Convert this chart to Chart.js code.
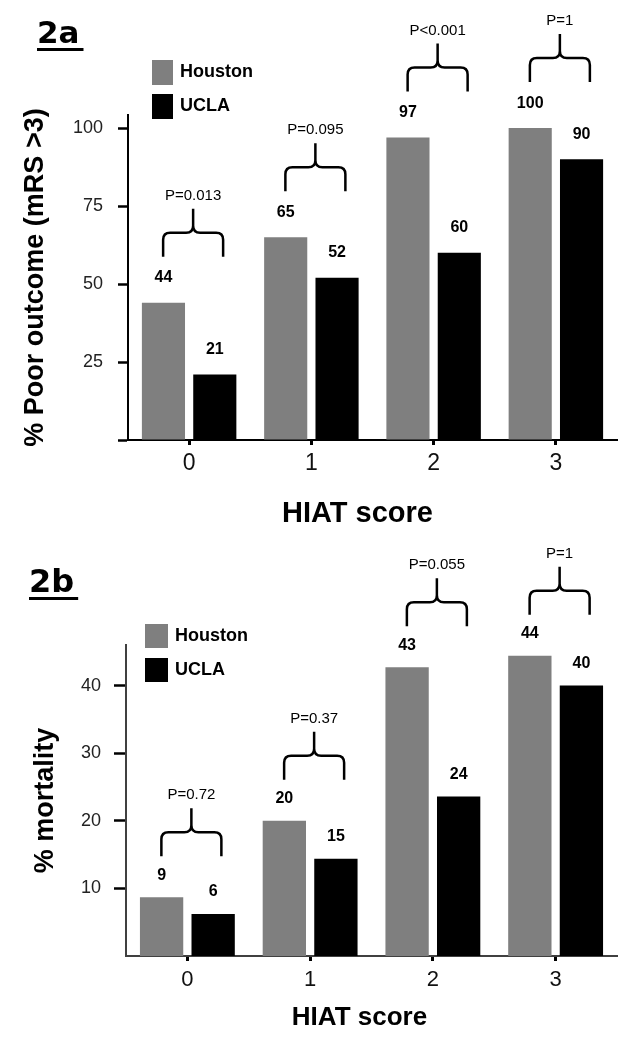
<!DOCTYPE html>
<html lang="en">
<head>
  <meta charset="UTF-8">
  <title>HIAT score outcome and mortality</title>
  <style>
    body {
      margin: 0;
      padding: 0;
      background: #fff;
    }
    .panel {
      position: absolute;
      left: 0;
      width: 627px;
    }
    .panel canvas {
      display: block;
    }
  </style>
</head>
<body>
  <div class="panel" style="top: 0; height: 530px;">
    <canvas id="chart-2a" width="627" height="530"></canvas>
  </div>
  <div class="panel" style="top: 530px; height: 516px;">
    <canvas id="chart-2b" width="627" height="516"></canvas>
  </div>

  <script src="https://cdn.jsdelivr.net/npm/chart.js"></script>
  <script>
    // data
    const categories = ['0', '1', '2', '3'];
    const seriesNames = ['Houston', 'UCLA'];

    // 2a: % poor outcome (mRS >3)
    const outcomeHouston = [44, 65, 97, 100];
    const outcomeUCLA = [21, 52, 60, 90];
    const outcomeHoustonLabels = ['44', '65', '97', '100'];
    const outcomeUCLALabels = ['21', '52', '60', '90'];
    const outcomePValues = ['P=0.013', 'P=0.095', 'P<0.001', 'P=1'];
    const outcomeTicks = [0, 25, 50, 75, 100];

    // 2b: % mortality
    const mortalityHouston = [8.7, 20, 42.7, 44.4];
    const mortalityUCLA = [6.2, 14.4, 23.6, 40];
    const mortalityHoustonLabels = ['9', '20', '43', '44'];
    const mortalityUCLALabels = ['6', '15', '24', '40'];
    const mortalityPValues = ['P=0.72', 'P=0.37', 'P=0.055', 'P=1'];
    const mortalityTicks = [10, 20, 30, 40];

    const FONT = "'Liberation Sans', Arial, sans-serif";
    const houstonColor = '#7f7f7f';
    const uclaColor = '#000000';

    // curly brace pointing up, legs down towards the bars
    function drawBrace(ctx, cx, bottom, half) {
      const r = 7;
      const hy = bottom - 24;
      const tip = bottom - 48;
      ctx.beginPath();
      [-1, 1].forEach(side => {
        const ex = cx + side * half;
        ctx.moveTo(ex, bottom);
        ctx.lineTo(ex, hy + r);
        ctx.quadraticCurveTo(ex, hy, ex - side * r, hy);
        ctx.lineTo(cx + side * r, hy);
        ctx.quadraticCurveTo(cx, hy, cx, hy - r);
        ctx.lineTo(cx, tip);
      });
      ctx.stroke();
    }

    const figurePlugin = {
      id: 'figureExtras',
      afterDraw(chart, args, opts) {
        const ctx = chart.ctx;
        const area = chart.chartArea;
        const xScale = chart.scales.x;
        const metaH = chart.getDatasetMeta(0);
        const metaU = chart.getDatasetMeta(1);
        ctx.save();

        // value labels above bars
        ctx.fillStyle = '#000';
        ctx.font = 'bold 16px ' + FONT;
        ctx.textAlign = 'center';
        ctx.textBaseline = 'middle';
        [metaH, metaU].forEach((meta, i) => {
          meta.data.forEach((bar, j) => {
            ctx.fillText(opts.valueLabels[i][j], bar.x, bar.y - opts.labelGap);
          });
        });

        // p-value braces
        ctx.strokeStyle = '#000';
        ctx.lineWidth = 2.5;
        ctx.lineCap = 'butt';
        ctx.font = '15px ' + FONT;
        opts.pValues.forEach((p, j) => {
          const cx = xScale.getPixelForValue(j) + 4;
          const top = Math.min(metaH.data[j].y, metaU.data[j].y);
          const bottom = top - opts.braceGap;
          drawBrace(ctx, cx, bottom, 30);
          ctx.fillText(p, cx, bottom - 61);
        });

        // legend
        const lx = area.left + opts.legend.dx;
        let ly = area.top + opts.legend.dy;
        ctx.textAlign = 'left';
        ctx.font = 'bold 18px ' + FONT;
        chart.data.datasets.forEach(ds => {
          ctx.fillStyle = ds.backgroundColor;
          ctx.fillRect(lx, ly, opts.legend.w, opts.legend.h);
          ctx.fillStyle = '#000';
          ctx.fillText(ds.label, lx + opts.legend.w + 7, ly + opts.legend.h / 2);
          ly += opts.legend.step;
        });

        // x axis title
        ctx.textAlign = 'center';
        ctx.textBaseline = 'alphabetic';
        ctx.font = 'bold ' + opts.xTitle.size + 'px ' + FONT;
        ctx.fillText(opts.xTitle.text, (area.left + area.right) / 2 + opts.xTitle.dx, area.bottom + opts.xTitle.dy);

        // panel title, underlined
        ctx.textAlign = 'left';
        ctx.font = 'bold ' + opts.panel.size + "px 'DejaVu Sans', sans-serif";
        ctx.fillText(opts.panel.text, opts.panel.x, opts.panel.y);
        const tw = ctx.measureText(opts.panel.text).width;
        ctx.fillRect(opts.panel.x, opts.panel.y + 5, tw + 4, 3);

        ctx.restore();
      }
    };

    function makeChart(id, cfg) {
      return new Chart(document.getElementById(id), {
        type: 'bar',
        data: {
          labels: categories,
          datasets: [
            { label: seriesNames[0], data: cfg.houston, backgroundColor: houstonColor },
            { label: seriesNames[1], data: cfg.ucla, backgroundColor: uclaColor }
          ]
        },
        plugins: [figurePlugin],
        options: {
          responsive: false,
          devicePixelRatio: 1,
          animation: false,
          categoryPercentage: 0.84,
          barPercentage: 0.84,
          layout: { padding: { top: 115, right: 10, left: 0, bottom: 0 } },
          plugins: {
            legend: { display: false },
            tooltip: { enabled: false },
            figureExtras: {
              valueLabels: [cfg.houstonLabels, cfg.uclaLabels],
              labelGap: cfg.labelGap,
              pValues: cfg.pValues,
              braceGap: cfg.braceGap,
              legend: cfg.legend,
              xTitle: cfg.xTitle,
              panel: cfg.panel
            }
          },
          scales: {
            x: {
              offset: true,
              grid: {
                offset: false,
                drawOnChartArea: false,
                tickLength: 5,
                tickWidth: 3,
                tickColor: '#000'
              },
              border: { color: cfg.axisColor, width: 2 },
              ticks: {
                color: '#111',
                padding: cfg.xTickPadding,
                font: { family: FONT, size: cfg.xTickSize }
              },
              afterFit: s => { s.height = 90; }
            },
            y: {
              min: 0,
              max: cfg.max,
              grid: {
                drawOnChartArea: false,
                tickLength: cfg.yTickLength,
                tickWidth: 2.5,
                tickColor: c => (c.tick && c.tick.value === 0 && !cfg.zeroTick) ? 'rgba(0,0,0,0)' : '#000'
              },
              border: { color: cfg.axisColor, width: 2 },
              afterBuildTicks: s => { s.ticks = cfg.ticks.map(v => ({ value: v })); },
              ticks: {
                color: '#222',
                padding: cfg.yTickPadding,
                font: { family: FONT, size: 18 },
                callback: v => (v === 0 ? '' : String(v))
              },
              title: {
                display: true,
                text: cfg.yTitle,
                color: '#000',
                font: { family: FONT, size: 27, weight: 'bold' },
                padding: { top: cfg.yTitlePad, bottom: 0 }
              },
              afterFit: s => { s.width = cfg.yWidth; }
            }
          }
        }
      });
    }

    makeChart('chart-2a', {
      houston: outcomeHouston,
      ucla: outcomeUCLA,
      houstonLabels: outcomeHoustonLabels,
      uclaLabels: outcomeUCLALabels,
      pValues: outcomePValues,
      ticks: outcomeTicks,
      zeroTick: true,
      max: 104.2,
      yTitle: '% Poor outcome (mRS >3)',
      yTitlePad: 19,
      yWidth: 128,
      yTickLength: 10,
      yTickPadding: 15,
      xTickSize: 23,
      xTickPadding: 5,
      axisColor: '#000',
      labelGap: 25,
      braceGap: 46,
      legend: { dx: 24, dy: -55, w: 21, h: 25, step: 34 },
      xTitle: { text: 'HIAT score', size: 29, dx: -15, dy: 82 },
      panel: { text: '2a', size: 31, x: 37, y: 43 }
    });

    makeChart('chart-2b', {
      houston: mortalityHouston,
      ucla: mortalityUCLA,
      houstonLabels: mortalityHoustonLabels,
      uclaLabels: mortalityUCLALabels,
      pValues: mortalityPValues,
      ticks: mortalityTicks,
      zeroTick: false,
      max: 46,
      yTitle: '% mortality',
      yTitlePad: 29,
      yWidth: 126,
      yTickLength: 12,
      yTickPadding: 13,
      xTickSize: 22,
      xTickPadding: 6,
      axisColor: '#404040',
      labelGap: 22,
      braceGap: 41,
      legend: { dx: 19, dy: -21, w: 23, h: 24, step: 34 },
      xTitle: { text: 'HIAT score', size: 26, dx: -12, dy: 69 },
      panel: { text: '2b', size: 32, x: 29, y: 62 }
    });
  </script>
</body>
</html>
